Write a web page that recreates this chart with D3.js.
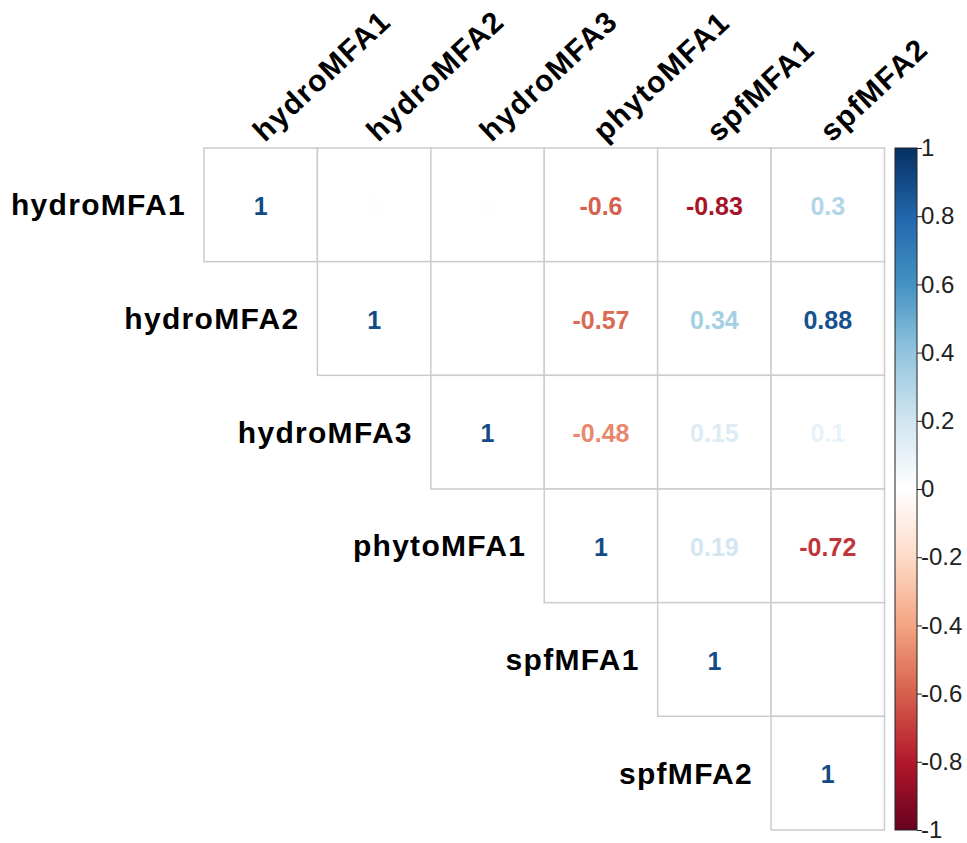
<!DOCTYPE html>
<html><head><meta charset="utf-8">
<script src="https://cdn.jsdelivr.net/npm/d3@7"></script>
<style>body{margin:0;background:#fff}text{font-family:Arial,"Liberation Sans",sans-serif}</style>
</head><body><div id="chart"></div>
<script>
const vars = ["hydroMFA1","hydroMFA2","hydroMFA3","phytoMFA1","spfMFA1","spfMFA2"]
const corr = [
  [1, -0.003, -0.003, -0.6, -0.83, 0.3],
  [null, 1, 0.003, -0.57, 0.34, 0.88],
  [null, null, 1, -0.48, 0.15, 0.1],
  [null, null, null, 1, 0.19, -0.72],
  [null, null, null, null, 1, 0.003],
  [null, null, null, null, null, 1]
]
const legendTicks = [1,0.8,0.6,0.4,0.2,0,-0.2,-0.4,-0.6,-0.8,-1]
const palette = ["#67001F","#B2182B","#D6604D","#F4A582","#FDDBC7","#FFFFFF","#D1E5F0","#92C5DE","#4393C3","#2166AC","#053061"]

const W = 967, H = 843
const svg = d3.select("#chart").append("svg").attr("width", W).attr("height", H)

const x = d3.scaleBand().domain(vars).range([204, 884.5])
const y = d3.scaleBand().domain(vars).range([148, 830])
const color = d3.scaleLinear().domain(d3.range(11).map(i => -1 + i * 0.2)).range(palette)

const cells = []
corr.forEach((row, i) => row.forEach((v, j) => { if (v !== null) cells.push({r: vars[i], c: vars[j], v}) }))

svg.selectAll("rect.cell").data(cells).join("rect")
  .attr("x", d => x(d.c)).attr("y", d => y(d.r))
  .attr("width", x.bandwidth()).attr("height", y.bandwidth())
  .attr("fill", "#fff").attr("stroke", "#cccccc").attr("stroke-width", 1.5)

const fmt = v => { const r = Math.round(v * 100) / 100; return r === 0 ? "0" : String(r) }
svg.selectAll("text.val").data(cells).join("text")
  .attr("x", d => x(d.c) + x.bandwidth() / 2).attr("y", d => y(d.r) + y.bandwidth() / 2 + 1)
  .attr("text-anchor", "middle").attr("dominant-baseline", "central")
  .attr("font-size", 25).attr("font-weight", "bold")
  .attr("fill", d => color(Math.min(d.v, 0.9))).text(d => fmt(d.v))

// row labels
svg.selectAll("text.rl").data(vars).join("text")
  .attr("x", (d) => x(d) - 18).attr("y", d => y(d) + y.bandwidth() / 2)
  .attr("text-anchor", "end").attr("dominant-baseline", "central")
  .attr("font-size", 30).attr("font-weight", "bold").attr("letter-spacing", 1.3).text(d => d)

// column labels
svg.selectAll("text.cl").data(vars).join("text")
  .attr("transform", d => `translate(${x(d) + x.bandwidth() / 2 + 4},${143}) rotate(-43)`)
  .attr("font-size", 30).attr("font-weight", "bold").attr("letter-spacing", 1.3).text(d => d)

// colour legend
const ly = d3.scaleLinear().domain([1, -1]).range([148, 830])
const defs = svg.append("defs")
const grad = defs.append("linearGradient").attr("id", "g").attr("x1", 0).attr("y1", 1).attr("x2", 0).attr("y2", 0)
palette.forEach((c, i) => grad.append("stop").attr("offset", i / 10).attr("stop-color", c))
svg.append("rect").attr("x", 895).attr("y", 148).attr("width", 22).attr("height", 682)
  .attr("fill", "url(#g)").attr("stroke", "#222").attr("stroke-width", 1)
const lg = svg.append("g").attr("transform", "translate(917,0)")
  .call(d3.axisRight(ly).tickValues(legendTicks).tickSize(5).tickFormat(d => String(d)))
lg.select(".domain").remove()
lg.selectAll("text").attr("font-size", 24).attr("fill", "#222").attr("x", 4)
lg.selectAll("line").attr("stroke", "#222")
</script></body></html>
